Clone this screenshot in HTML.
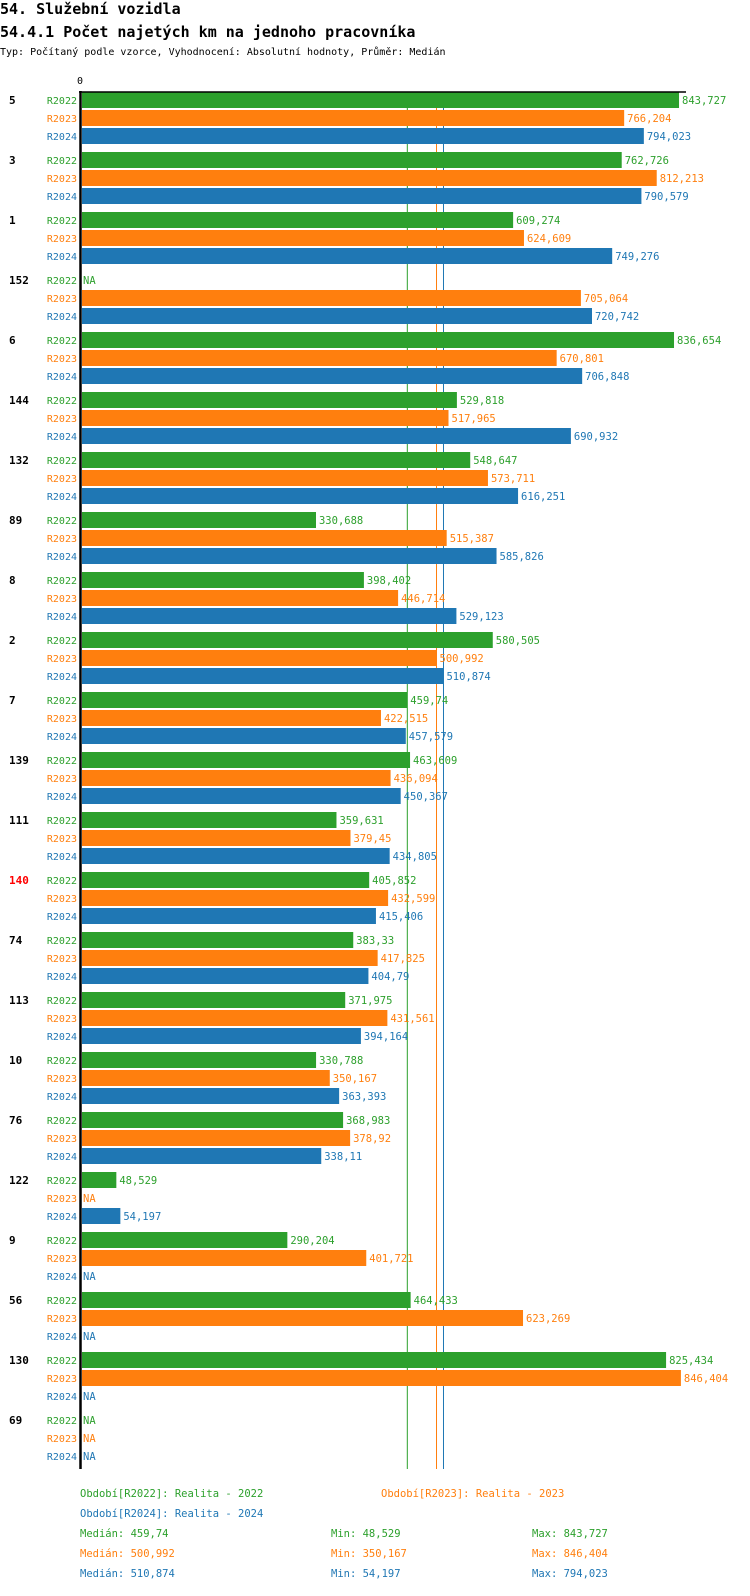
<!DOCTYPE html>
<html><head><meta charset="utf-8">
<style>
body{margin:0;background:#fff;width:750px;height:1592px;overflow:hidden;font-family:"DejaVu Sans Mono","Liberation Mono",monospace;}
svg text{font-family:"DejaVu Sans Mono","Liberation Mono",monospace;}
</style></head><body>
<svg id="chart" width="750" height="1592" xmlns="http://www.w3.org/2000/svg">
<text x="0" y="14" font-size="15" font-weight="bold" fill="#000">54. Služební vozidla</text>
<text x="0" y="37" font-size="15" font-weight="bold" fill="#000">54.4.1 Počet najetých km na jednoho pracovníka</text>
<text x="0" y="55" font-size="10" fill="#000">Typ: Počítaný podle vzorce, Vyhodnocení: Absolutní hodnoty, Průměr: Medián</text>
<g id="marks"></g>
</svg>
<script>
const categories=["5","3","1","152","6","144","132","89","8","2","7","139","111","140","74","113","10","76","122","9","56","130","69"];
const seriesNames=["R2022","R2023","R2024"];
const r2022=[843.727,762.726,609.274,null,836.654,529.818,548.647,330.688,398.402,580.505,459.74,463.609,359.631,405.852,383.33,371.975,330.788,368.983,48.529,290.204,464.433,825.434,null];
const r2023=[766.204,812.213,624.609,705.064,670.801,517.965,573.711,515.387,446.714,500.992,422.515,436.094,379.45,432.599,417.825,431.561,350.167,378.92,null,401.721,623.269,846.404,null];
const r2024=[794.023,790.579,749.276,720.742,706.848,690.932,616.251,585.826,529.123,510.874,457.579,450.367,434.805,415.406,404.79,394.164,363.393,338.11,54.197,null,null,null,null];
const medians=[459.74,500.992,510.874];
const mins=[48.529,350.167,54.197];
const maxs=[843.727,846.404,794.023];
const highlighted=["140"];

const colors=["#2ca02c","#ff7f0e","#1f77b4"];
const NS="http://www.w3.org/2000/svg";
const g=document.getElementById('marks');
const X0=82, K=0.7076, TOP=92, GROUP=60, ROW=18, BH=16;
const x=v=>X0+v*K;
const fmt=v=>String(v).replace('.',',');
function el(tag,attrs,txt){const e=document.createElementNS(NS,tag);for(const k in attrs)e.setAttribute(k,attrs[k]);if(txt!=null)e.textContent=txt;g.appendChild(e);return e;}
const series=[r2022,r2023,r2024];
const bottom=TOP+categories.length*GROUP-3;
medians.forEach((m,i)=>{const l=el('line',{x1:x(m),x2:x(m),y1:TOP,y2:bottom,stroke:colors[i],'stroke-width':1});

});
categories.forEach((c,gi)=>{
  const gy=TOP+gi*GROUP;
  const t=el('text',{x:9,y:gy+12,'font-size':11,'font-weight':'bold',fill:highlighted.includes(c)?'#ff0000':'#000'},c);
  
  
  series.forEach((s,si)=>{
    const y=gy+si*ROW;
    const lab=el('text',{x:77,y:y+12,'font-size':10,'text-anchor':'end',fill:colors[si]},seriesNames[si]);
    
    
    const v=s[gi];
    if(v==null){
      const na=el('text',{x:83,y:y+12,'font-size':10.5,fill:colors[si]},'NA');
      
      
    }else{
      const r=el('rect',{x:X0,y:y,width:v*K,height:BH,fill:colors[si]});
      
      
      const vt=el('text',{x:x(v)+3,y:y+12,'font-size':10.5,fill:colors[si]},fmt(v));
      
      
    }
  });
});
const ax=el('line',{x1:80.5,x2:80.5,y1:TOP-1,y2:bottom,stroke:'#000','stroke-width':2.5});


const tx=el('line',{x1:79,x2:686,y1:92,y2:92,stroke:'#000','stroke-width':1.5});


const z=el('text',{x:80,y:84,'font-size':10,'text-anchor':'middle',fill:'#000'},'0');


const legs=[[80,1497,'Období[R2022]: Realita - 2022',0],[381,1497,'Období[R2023]: Realita - 2023',1],[80,1517,'Období[R2024]: Realita - 2024',2]];
legs.forEach(l=>{const t=el('text',{x:l[0],y:l[1],'font-size':10.5,fill:colors[l[3]]},l[2]);

});
[0,1,2].forEach(i=>{const y=1537+i*20;
const a=el('text',{x:80,y:y,'font-size':10.5,fill:colors[i]},'Medián: '+fmt(medians[i]));


const b=el('text',{x:331,y:y,'font-size':10.5,fill:colors[i]},'Min: '+fmt(mins[i]));


const d=el('text',{x:532,y:y,'font-size':10.5,fill:colors[i]},'Max: '+fmt(maxs[i]));

});
</script>
</body></html>
